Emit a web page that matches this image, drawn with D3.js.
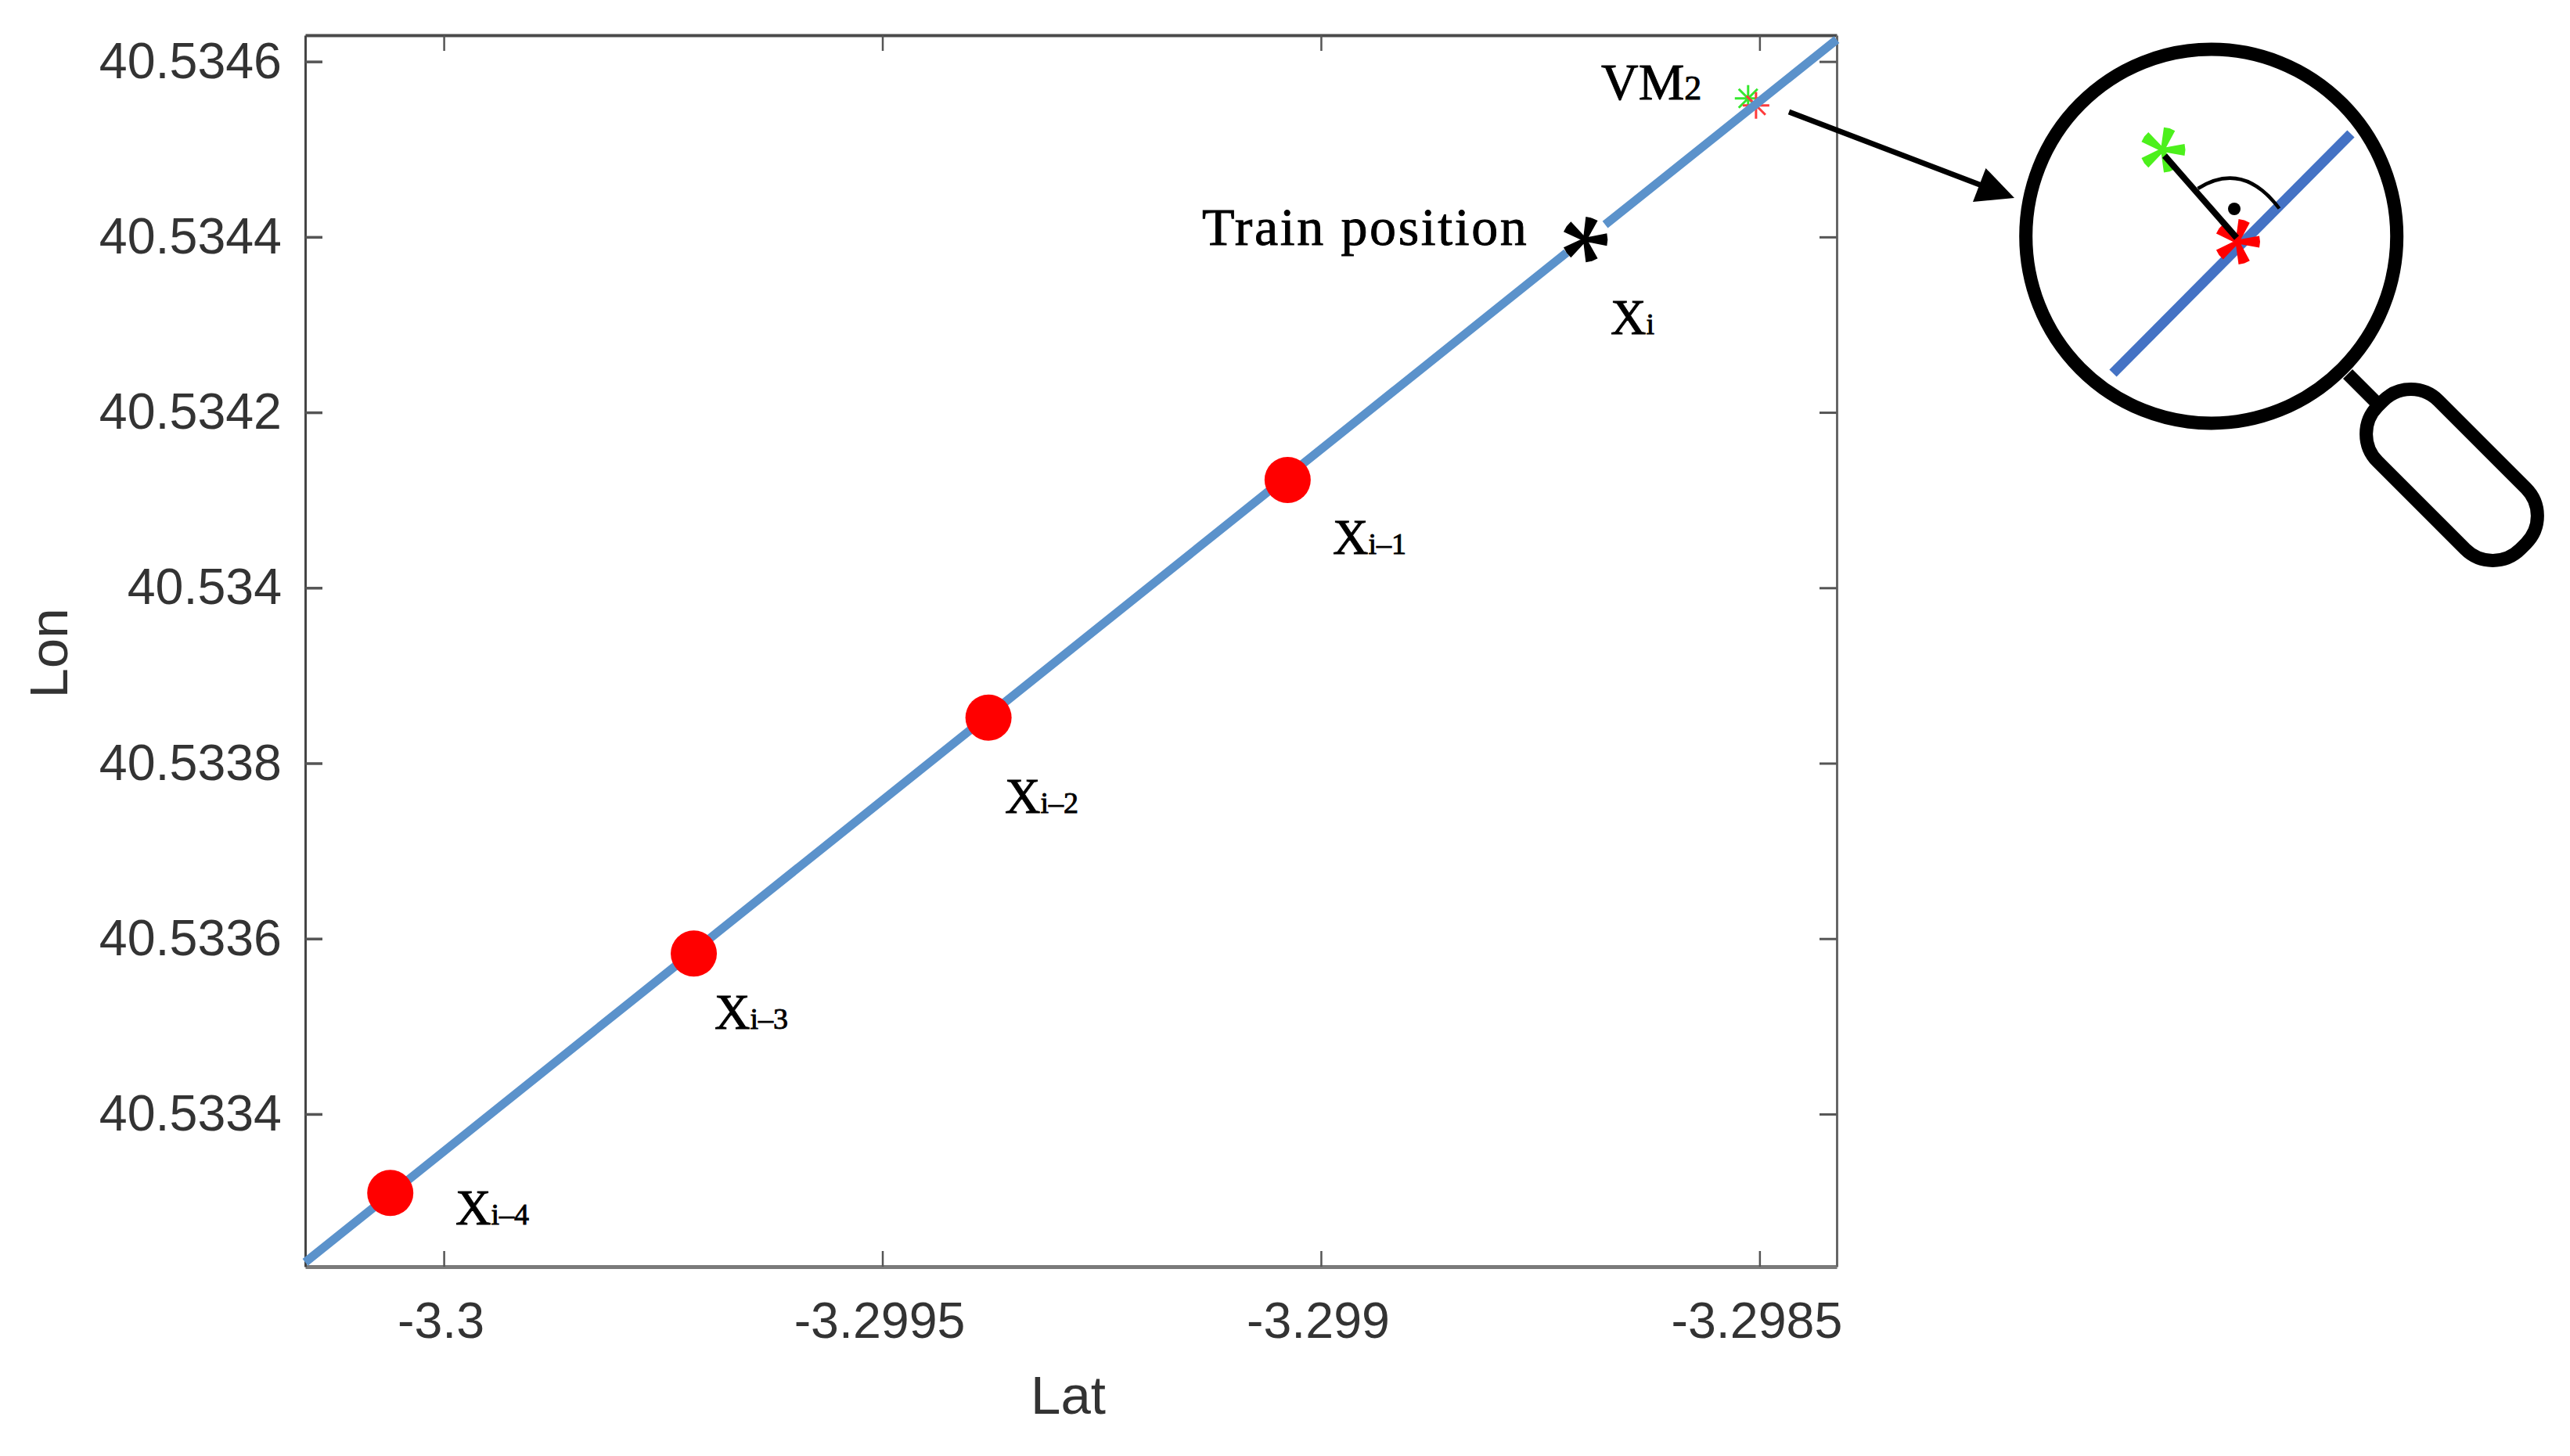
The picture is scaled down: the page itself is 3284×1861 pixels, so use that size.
<!DOCTYPE html>
<html>
<head>
<meta charset="utf-8">
<style>
  body { margin: 0; background: #fff; }
  svg { display: block; }
  .tick text { font-family: "Liberation Sans", sans-serif; font-size: 64.5px; fill: #333; }
  .axis-title { font-family: "Liberation Sans", sans-serif; font-size: 69px; fill: #333; }
  .note { font-family: "Liberation Serif", serif; fill: #000; stroke: #000; stroke-width: 0.9px; }
</style>
<script src="https://cdn.jsdelivr.net/npm/d3@7/dist/d3.min.js"></script>
</head>
<body>
<script>
const latTicks = [-3.3, -3.2995, -3.299, -3.2985];
const lonTicks = [40.5334, 40.5336, 40.5338, 40.534, 40.5342, 40.5344, 40.5346];

// null splits the track where it stops around the train marker
const trackLat = [-3.300158, -3.29872, null, -3.298676, -3.298412];
const trackLon = [40.533231, 40.534382, null, 40.534414, 40.534625];

const pastLat = [-3.300061, -3.299715, -3.299379, -3.299038];
const pastLon = [40.53331, 40.533583, 40.533852, 40.534123];

const trainLat = [-3.298699];
const trainLon = [40.534397];

const vmLat = [-3.298513, -3.298504];
const vmLon = [40.534558, 40.53455];
const vmColors = ['#35e82e', '#ff3b3b'];

const width = 3284;
const height = 1861;
const frame = { left: 390, right: 2347, top: 45, bottom: 1619 };

const x = d3.scaleLinear().domain([-3.300158, -3.298412]).range([frame.left, frame.right]);
const y = d3.scaleLinear().domain([40.533226, 40.53463]).range([frame.bottom, frame.top]);

const svg = d3.select('body').append('svg')
  .attr('width', width)
  .attr('height', height);

// five tapered arms, the way the serif asterisk looks in the figure
function starPath(r, tip) {
  let d = '';
  for (let k = 0; k < 5; k++) {
    const a = -k * 2 * Math.PI / 5;
    const c = Math.cos(a);
    const s = Math.sin(a);
    const pts = [[0, -2.5], [r, -tip], [r + 1, 0], [r, tip], [0, 2.5]]
      .map(p => [p[0] * c - p[1] * s, p[0] * s + p[1] * c]);
    d += 'M' + pts.map(p => p.join(',')).join('L') + 'Z';
  }
  return d;
}

// thin eight arm marker used by the plot for the VM points
function thinStarPath(r) {
  let d = '';
  for (let k = 0; k < 4; k++) {
    const a = k * Math.PI / 4;
    const c = Math.cos(a) * r;
    const s = Math.sin(a) * r;
    d += `M${-c},${-s}L${c},${s}`;
  }
  return d;
}

function drawAxes() {
  const bottom = d3.axisBottom(x).tickValues(latTicks).tickFormat(String)
    .tickSizeInner(-20).tickSizeOuter(0).tickPadding(45);
  const top = d3.axisTop(x).tickValues(latTicks).tickFormat('')
    .tickSizeInner(-20).tickSizeOuter(0);
  const left = d3.axisLeft(y).tickValues(lonTicks).tickFormat(String)
    .tickSizeInner(-22).tickSizeOuter(0).tickPadding(30);
  const right = d3.axisRight(y).tickValues(lonTicks).tickFormat('')
    .tickSizeInner(-22).tickSizeOuter(0);

  const axes = [
    { axis: bottom, at: [0, frame.bottom], line: 5, color: '#7a7a7a', tick: 2.5 },
    { axis: top, at: [0, frame.top], line: 4, color: '#4a4a4a', tick: 2.5 },
    { axis: left, at: [frame.left, 0], line: 3, color: '#444', tick: 3.5 },
    { axis: right, at: [frame.right, 0], line: 3, color: '#666', tick: 3 },
  ];
  axes.forEach(a => {
    const g = svg.append('g')
      .attr('transform', `translate(${a.at[0]},${a.at[1]})`)
      .call(a.axis);
    g.select('.domain').attr('stroke', a.color).attr('stroke-width', a.line);
    g.selectAll('.tick line').attr('stroke', '#555').attr('stroke-width', a.tick);
  });
  svg.selectAll('.tick text').filter(d => d < 0).attr('dx', -4);

  svg.append('text').attr('class', 'axis-title')
    .attr('x', 1365).attr('y', 1807).attr('text-anchor', 'middle').text('Lat');
  svg.append('text').attr('class', 'axis-title')
    .attr('transform', 'translate(86,835) rotate(-90)').attr('text-anchor', 'middle').text('Lon');
}

function drawMarks() {
  vmLat.forEach((lat, i) => {
    svg.append('path')
      .attr('transform', `translate(${x(lat)},${y(vmLon[i])})`)
      .attr('d', thinStarPath(17))
      .attr('fill', 'none')
      .attr('stroke', vmColors[i])
      .attr('stroke-width', 3);
  });

  const track = d3.line()
    .defined(i => trackLat[i] !== null)
    .x(i => x(trackLat[i]))
    .y(i => y(trackLon[i]));
  svg.append('path')
    .attr('d', track(d3.range(trackLat.length)))
    .attr('fill', 'none')
    .attr('stroke', '#5b92cb')
    .attr('stroke-width', 11);

  svg.selectAll('.past')
    .data(pastLat)
    .join('circle')
    .attr('class', 'past')
    .attr('cx', d => x(d))
    .attr('cy', (d, i) => y(pastLon[i]))
    .attr('r', 29.5)
    .attr('fill', '#ff0000');

  svg.append('path')
    .attr('transform', `translate(${x(trainLat[0])},${y(trainLon[0])})`)
    .attr('d', starPath(28, 8))
    .attr('fill', '#000');
}

function drawNotes() {
  const note = (px, py, main, sub, subSize = 38) => {
    const t = svg.append('text').attr('class', 'note').attr('x', px).attr('y', py);
    const m = t.append('tspan').attr('font-size', main.size).text(main.text);
    if (main.spacing) m.attr('letter-spacing', main.spacing);
    if (sub) t.append('tspan').attr('font-size', subSize).text(sub);
  };
  note(1536, 313, { text: 'Train position', size: 68, spacing: 2.6 });
  note(2046, 127, { text: 'VM', size: 66 }, '2', 44);
  note(2058, 427, { text: 'X', size: 63 }, 'i');
  note(1703, 708, { text: 'X', size: 63 }, 'i\u20131');
  note(1284, 1039, { text: 'X', size: 63 }, 'i\u20132');
  note(913, 1315, { text: 'X', size: 63 }, 'i\u20133');
  note(582, 1565, { text: 'X', size: 63 }, 'i\u20134');
}

function drawMagnifier() {
  svg.append('line')
    .attr('x1', 2286).attr('y1', 143).attr('x2', 2540).attr('y2', 240)
    .attr('stroke', '#000').attr('stroke-width', 7);
  svg.append('path')
    .attr('d', 'M2574,253L2537.5,215L2521,258Z')
    .attr('fill', '#000');

  svg.append('line')
    .attr('x1', 2700).attr('y1', 477).attr('x2', 3004).attr('y2', 171)
    .attr('stroke', '#4472c4').attr('stroke-width', 13);

  svg.append('line')
    .attr('x1', 3000).attr('y1', 478).attr('x2', 3040).attr('y2', 518)
    .attr('stroke', '#000').attr('stroke-width', 17);
  svg.append('rect')
    .attr('x', -129).attr('y', -55).attr('width', 258).attr('height', 110).attr('rx', 50)
    .attr('transform', 'translate(3133,607) rotate(45)')
    .attr('fill', '#fff').attr('stroke', '#000').attr('stroke-width', 17);

  svg.append('ellipse')
    .attr('cx', 2825.7).attr('cy', 302).attr('rx', 237).attr('ry', 239)
    .attr('fill', 'none').attr('stroke', '#000').attr('stroke-width', 17);

  svg.append('path')
    .attr('transform', 'translate(2763.5,191.6)')
    .attr('d', starPath(28, 7.5))
    .attr('fill', '#4cf01c');
  svg.append('path')
    .attr('transform', 'translate(2859,309)')
    .attr('d', starPath(28, 7.5))
    .attr('fill', '#ff0000');

  svg.append('line')
    .attr('x1', 2766).attr('y1', 199).attr('x2', 2858).attr('y2', 304)
    .attr('stroke', '#000').attr('stroke-width', 8);
  svg.append('path')
    .attr('d', 'M2808.5,241Q2866,205 2912.5,266.5')
    .attr('fill', 'none').attr('stroke', '#000').attr('stroke-width', 4.5);
  svg.append('circle')
    .attr('cx', 2855).attr('cy', 267).attr('r', 8)
    .attr('fill', '#000');
}

drawAxes();
drawMarks();
drawNotes();
drawMagnifier();
</script>
</body>
</html>
